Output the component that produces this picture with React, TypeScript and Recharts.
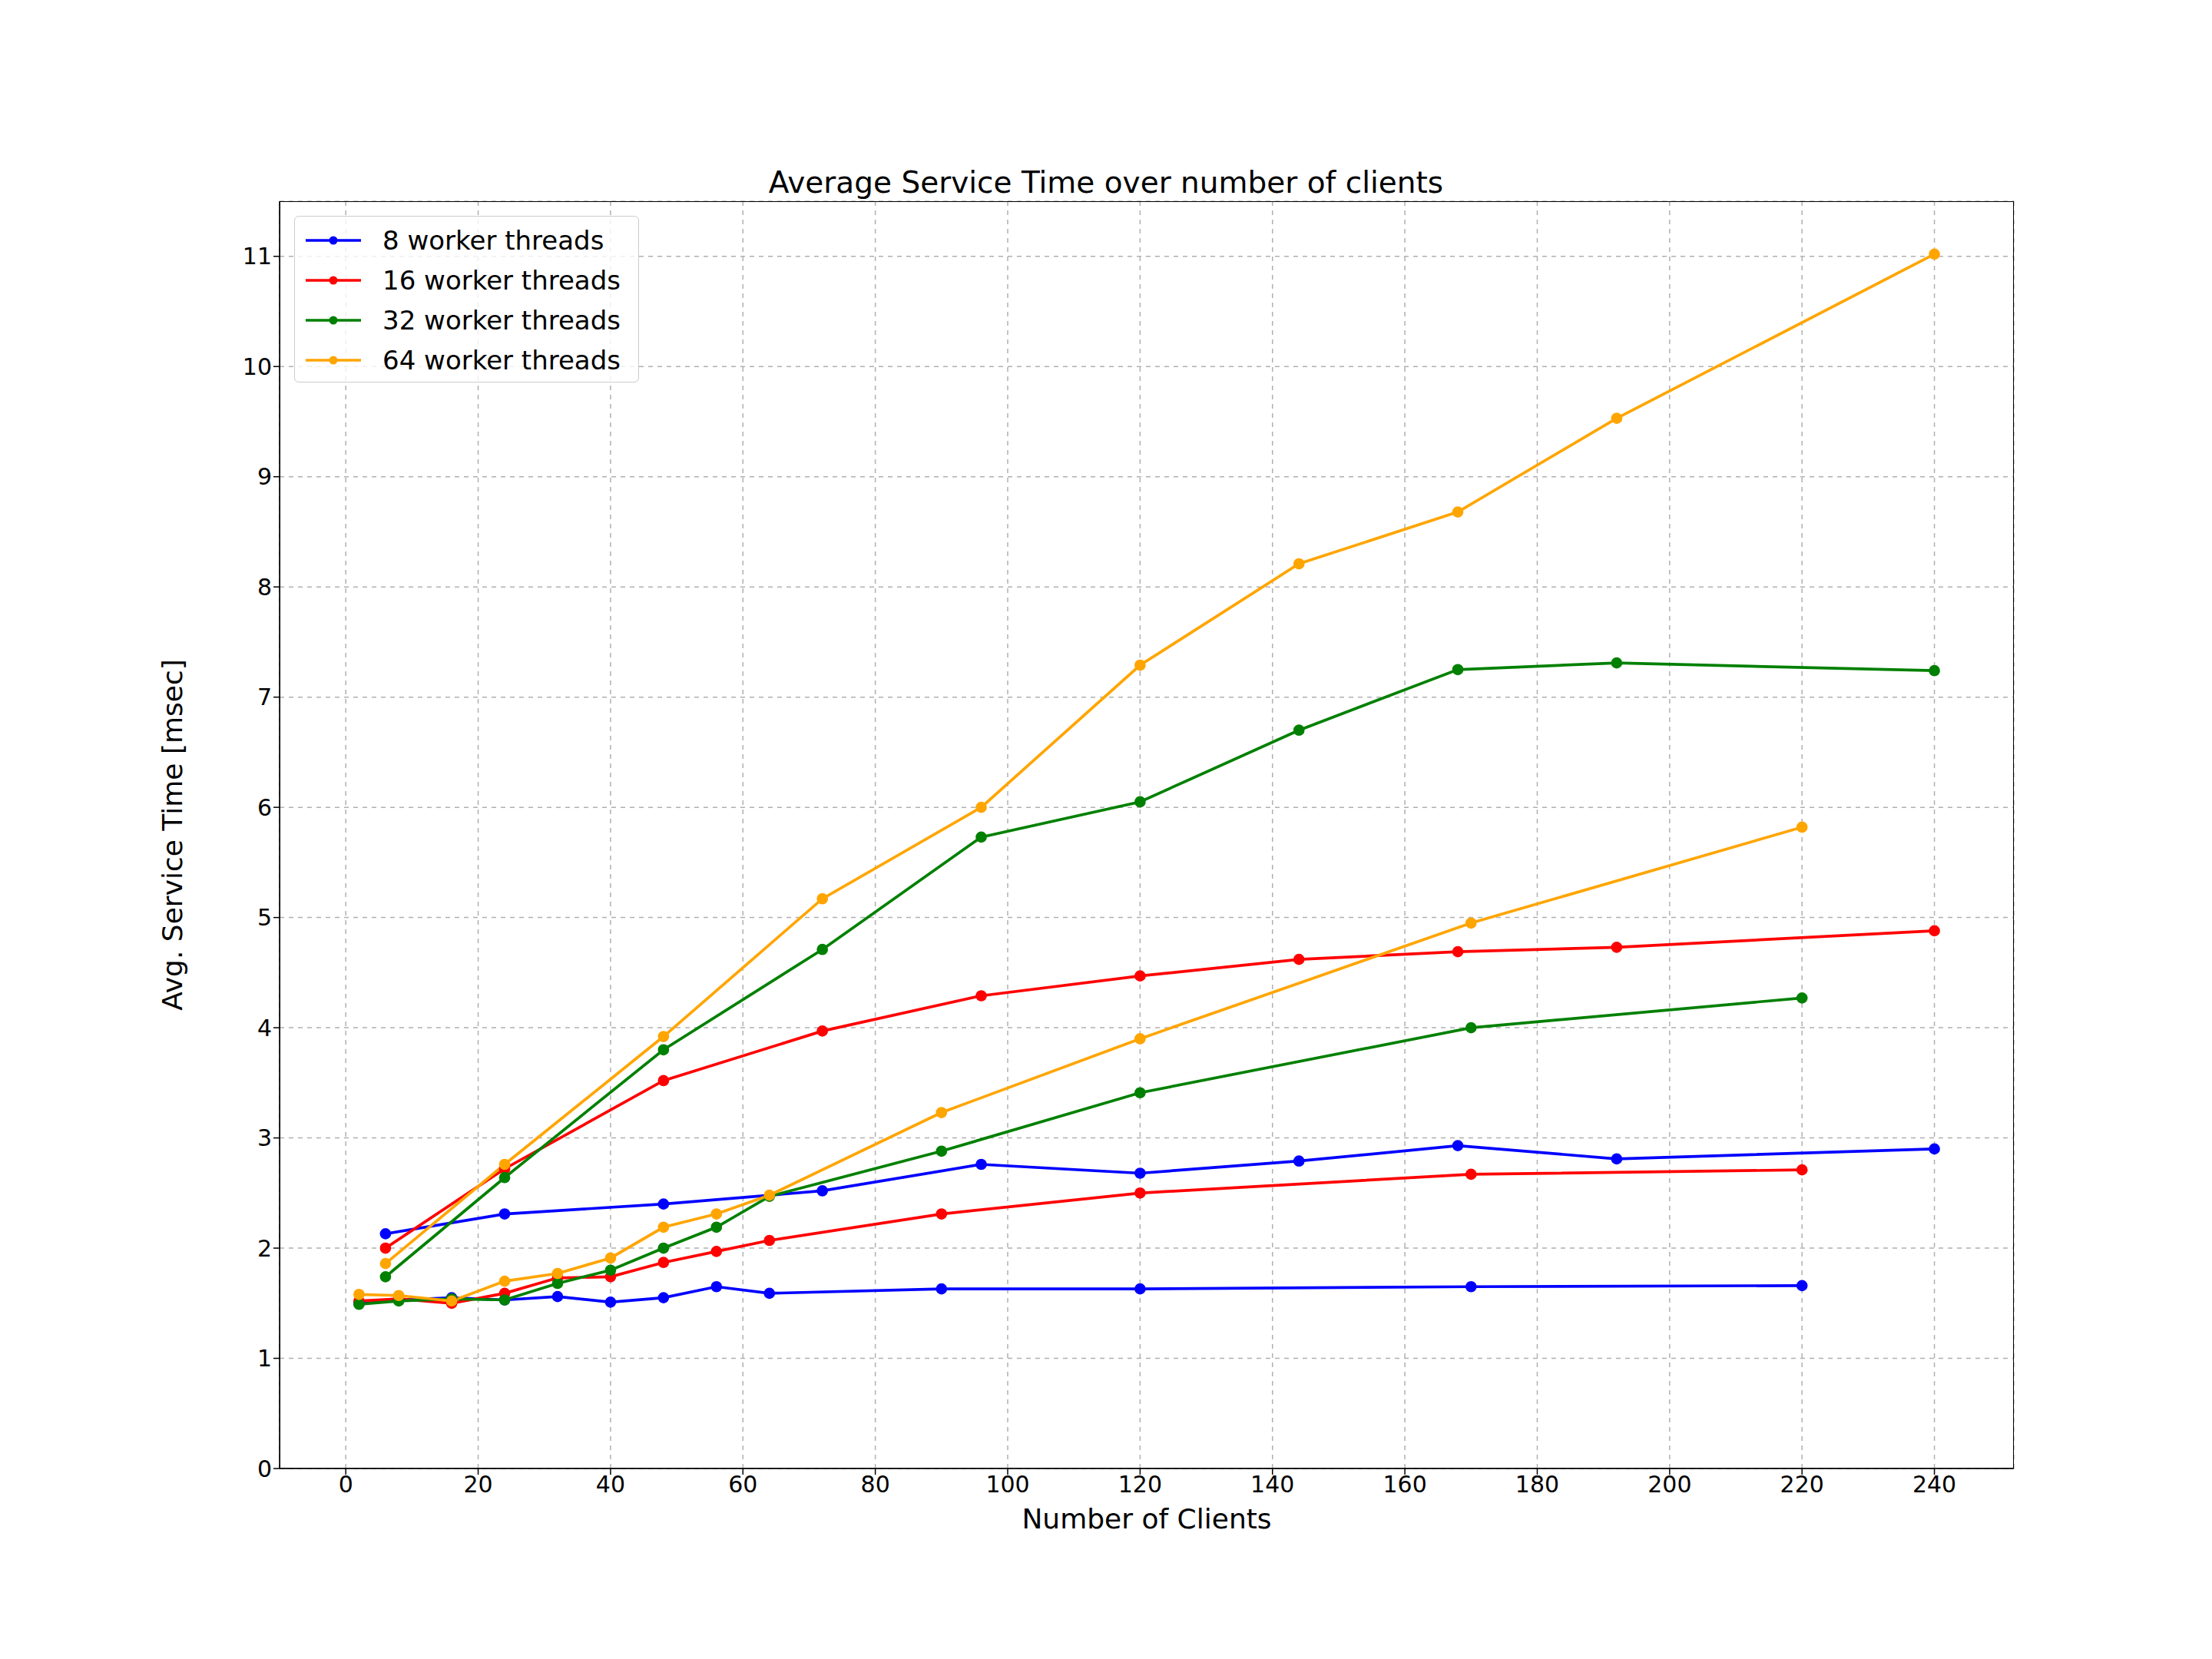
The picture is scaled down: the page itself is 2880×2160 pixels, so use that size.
import React from 'react';
import { LineChart, Line, XAxis, YAxis, CartesianGrid, Label } from 'recharts';

const clientsA = [2, 8, 16, 24, 32, 40, 48, 56, 64, 90, 120, 170, 220];
const clientsB = [6, 24, 48, 72, 96, 120, 144, 168, 192, 240];

const blueA = [1.5, 1.53, 1.55, 1.53, 1.56, 1.51, 1.55, 1.65, 1.59, 1.63, 1.63, 1.65, 1.66];
const blueB = [2.13, 2.31, 2.4, 2.52, 2.76, 2.68, 2.79, 2.93, 2.81, 2.9];
const redA = [1.52, 1.54, 1.5, 1.59, 1.73, 1.74, 1.87, 1.97, 2.07, 2.31, 2.5, 2.67, 2.71];
const redB = [2.0, 2.72, 3.52, 3.97, 4.29, 4.47, 4.62, 4.69, 4.73, 4.88];
const greenA = [1.49, 1.52, 1.54, 1.53, 1.68, 1.8, 2.0, 2.19, 2.47, 2.88, 3.41, 4.0, 4.27];
const greenB = [1.74, 2.64, 3.8, 4.71, 5.73, 6.05, 6.7, 7.25, 7.31, 7.24];
const orangeA = [1.58, 1.57, 1.52, 1.7, 1.77, 1.91, 2.19, 2.31, 2.48, 3.23, 3.9, 4.95, 5.82];
const orangeB = [1.86, 2.76, 3.92, 5.17, 6.0, 7.29, 8.21, 8.68, 9.53, 11.02];

const xTicks = [0, 20, 40, 60, 80, 100, 120, 140, 160, 180, 200, 220, 240];
const yTicks = [0, 1, 2, 3, 4, 5, 6, 7, 8, 9, 10, 11];

const legendNames = ['8 worker threads', '16 worker threads', '32 worker threads', '64 worker threads'];
const colors = ['blue', 'red', 'green', 'orange'];

const toPoints = (xs: number[], ys: number[]) => xs.map((x, i) => ({ x, y: ys[i] }));

const series = [
  { key: 'bA', color: 'blue', data: toPoints(clientsA, blueA) },
  { key: 'bB', color: 'blue', data: toPoints(clientsB, blueB) },
  { key: 'rA', color: 'red', data: toPoints(clientsA, redA) },
  { key: 'rB', color: 'red', data: toPoints(clientsB, redB) },
  { key: 'gA', color: 'green', data: toPoints(clientsA, greenA) },
  { key: 'gB', color: 'green', data: toPoints(clientsB, greenB) },
  { key: 'oA', color: 'orange', data: toPoints(clientsA, orangeA) },
  { key: 'oB', color: 'orange', data: toPoints(clientsB, orangeB) },
];

const font = '"DejaVu Sans", sans-serif';
const tick = { fontSize: 30, fill: '#000', fontFamily: font };

export default function App() {
  return (
    <div style={{ position: 'absolute', left: 0, top: 0, width: 2880, height: 2160, background: '#fff', fontFamily: font }}>
      <div style={{ position: 'absolute', top: 215, width: 2880, textAlign: 'center', fontSize: 39, color: '#000' }}>
        Average Service Time over number of clients
      </div>
      <LineChart width={2880} height={2160} margin={{ top: 262, right: 258, bottom: 148, left: 214 }}>
        <CartesianGrid stroke="#b0b0b0" strokeDasharray="6 6" strokeWidth={1.5} />
        <XAxis
          type="number"
          dataKey="x"
          domain={[-10, 252]}
          ticks={xTicks}
          allowDuplicatedCategory={false}
          tick={tick}
          tickSize={8}
          stroke="#000"
          strokeWidth={1.5}
          height={100}
        >
          <Label value="Number of Clients" position="insideBottom" offset={22} style={{ fontSize: 36, fill: '#000', fontFamily: font }} />
        </XAxis>
        <YAxis
          type="number"
          dataKey="y"
          domain={[0, 11.5]}
          ticks={yTicks}
          tick={tick}
          tickSize={8}
          stroke="#000"
          strokeWidth={1.5}
          width={150}
        >
          <Label value="Avg. Service Time [msec]" angle={-90} position="insideLeft" offset={10} style={{ fontSize: 36, fill: '#000', fontFamily: font, textAnchor: 'middle' }} />
        </YAxis>
        {series.map((s) => (
          <Line
            key={s.key}
            data={s.data}
            dataKey="y"
            type="linear"
            stroke={s.color}
            strokeWidth={3.7}
            dot={{ r: 5.5, fill: s.color, stroke: s.color }}
            isAnimationActive={false}
          />
        ))}
      </LineChart>
      <div style={{ position: 'absolute', left: 364, top: 262, width: 2258, height: 1650, border: '1.5px solid #000', boxSizing: 'border-box', pointerEvents: 'none' }} />
      <div style={{ position: 'absolute', left: 383, top: 281, width: 449, height: 217, border: '1.5px solid #ccc', borderRadius: 6, background: 'rgba(255,255,255,0.8)', boxSizing: 'border-box' }}>
        {legendNames.map((n, i) => (
          <div key={n} style={{ position: 'absolute', left: 12, top: 8 + i * 52, height: 46, display: 'flex', alignItems: 'center' }}>
            <svg width={76} height={20}>
              <line x1={2} y1={10} x2={74} y2={10} stroke={colors[i]} strokeWidth={3.7} />
              <circle cx={38} cy={10} r={5.5} fill={colors[i]} />
            </svg>
            <span style={{ marginLeft: 26, fontSize: 34, color: '#000' }}>{n}</span>
          </div>
        ))}
      </div>
    </div>
  );
}
